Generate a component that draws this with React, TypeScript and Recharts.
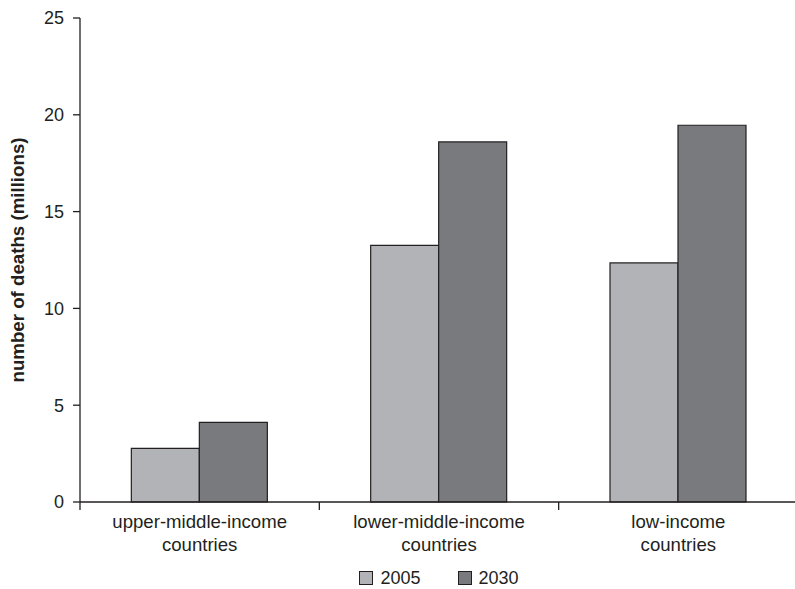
import React from 'react';
import { BarChart, Bar, XAxis, YAxis, Legend, Label } from 'recharts';

const categories = ['upper-middle-income countries', 'lower-middle-income countries', 'low-income countries'];
const values2005 = [2.77, 13.26, 12.35];
const values2030 = [4.11, 18.6, 19.46];
const yTicks = [0, 5, 10, 15, 20, 25];
const edgeTicks = [0, 0.5, 1, 1.5, 2, 2.5, 3];
const seriesNames = ['2005', '2030'];

const LIGHT = '#b1b3b6';
const DARK = '#797a7e';
const INK = '#231f20';
const FONT = '"Liberation Sans", Arial, Helvetica, sans-serif';

const data = categories.map((name, i) => ({ name, v2005: values2005[i], v2030: values2030[i] }));

const splitLabel = (s: string): string[] => {
  const idx = s.lastIndexOf(' ');
  return idx > 0 ? [s.slice(0, idx), s.slice(idx + 1)] : [s];
};

const EdgeTick = (props: any) => {
  const { x, y, payload } = props;
  const v = Number(payload.value);
  if (Number.isInteger(v)) {
    return <line x1={x} y1={y} x2={x} y2={y + 8} stroke={INK} strokeWidth={1.3} />;
  }
  const lines = splitLabel(categories[Math.floor(v)] || '');
  return (
    <text x={x} y={y} textAnchor="middle" fontFamily={FONT} fontSize={18.6} fill={INK}>
      {lines.map((l, i) => (
        <tspan key={i} x={x} y={y + 26 + i * 23}>{l}</tspan>
      ))}
    </text>
  );
};

const LegendContent = () => (
  <div style={{ display: 'flex', justifyContent: 'center', alignItems: 'center', height: 18, fontFamily: FONT, fontSize: 18, color: INK, paddingLeft: 80 }}>
    {seriesNames.map((n, i) => (
      <div key={n} style={{ display: 'flex', alignItems: 'center', marginLeft: i === 0 ? 0 : 37 }}>
        <div style={{ width: 12, height: 12, background: i === 0 ? LIGHT : DARK, border: `1px solid ${INK}`, marginRight: 7 }} />
        <span style={{ lineHeight: '18px' }}>{n}</span>
      </div>
    ))}
  </div>
);

export default function App() {
  return (
    <div style={{ position: 'absolute', left: 0, top: 0, width: 795, height: 589, overflow: 'hidden', background: '#fff' }}>
      <BarChart
        width={798}
        height={589}
        data={data}
        margin={{ top: 18, right: 0, bottom: 2, left: 0 }}
        barCategoryGap="21.45%"
        barGap={0}
      >
        <XAxis xAxisId="cat" dataKey="name" hide height={0} />
        <XAxis
          xAxisId="num"
          type="number"
          dataKey={() => 0}
          domain={[0, 3]}
          ticks={edgeTicks}
          interval={0}
          height={67}
          tickSize={0}
          tickMargin={0}
          tickLine={false}
          axisLine={{ stroke: INK, strokeWidth: 1.3 }}
          tick={<EdgeTick />}
          allowDataOverflow
        />
        <YAxis
          domain={[0, 25]}
          ticks={yTicks}
          interval={0}
          width={80}
          tickSize={7}
          tickMargin={9}
          axisLine={{ stroke: INK, strokeWidth: 1.3 }}
          tickLine={{ stroke: INK, strokeWidth: 1.3 }}
          tick={{ fontSize: 18, fill: INK, fontFamily: FONT }}
        >
          <Label
            content={(p: any) => {
              const vb = p.viewBox || { x: 0, y: 18, height: 484 };
              const cx = 17.5;
              const cy = vb.y + vb.height / 2;
              return (
                <text
                  x={cx}
                  y={cy}
                  transform={`rotate(-90 ${cx} ${cy})`}
                  textAnchor="middle"
                  dominantBaseline="central"
                  fontFamily={FONT}
                  fontWeight="bold"
                  fontSize={18.7}
                  fill={INK}
                >
                  number of deaths (millions)
                </text>
              );
            }}
          />
        </YAxis>
        <Legend verticalAlign="bottom" content={<LegendContent />} />
        <Bar xAxisId="cat" dataKey="v2005" name="2005" fill={LIGHT} stroke={INK} strokeWidth={1.2} isAnimationActive={false} />
        <Bar xAxisId="cat" dataKey="v2030" name="2030" fill={DARK} stroke={INK} strokeWidth={1.2} isAnimationActive={false} />
      </BarChart>
    </div>
  );
}
